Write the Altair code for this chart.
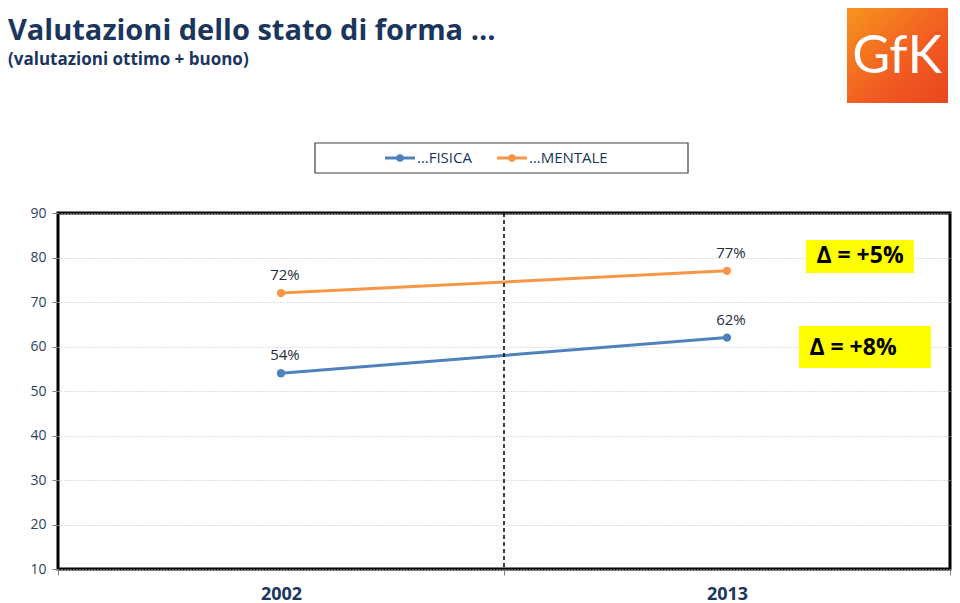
import altair as alt
import pandas as pd

# ---- data ----
years = ["2002", "2013"]
fisica = [54, 62]
mentale = [72, 77]
series_names = ["…FISICA", "…MENTALE"]
series_colors = ["#4F81BD", "#F79646"]
y_ticks = [10, 20, 30, 40, 50, 60, 70, 80, 90]
deltas = ["Δ = +5%", "Δ = +8%"]

title_text = "Valutazioni dello stato di forma …"
subtitle_text = "(valutazioni ottimo + buono)"

NAVY = "#1B365D"
FONT = "Open Sans"

rows = []
for i, yr in enumerate(years):
    rows.append({"year": yr, "serie": series_names[0], "value": fisica[i], "label": f"{fisica[i]}%"})
    rows.append({"year": yr, "serie": series_names[1], "value": mentale[i], "label": f"{mentale[i]}%"})
df = pd.DataFrame(rows)

x_enc = alt.X("year:N", sort=years,
              scale=alt.Scale(paddingInner=0, paddingOuter=0),
              axis=alt.Axis(title=None, labelAngle=0, labelFontSize=18, labelFontWeight="bold",
                            labelColor=NAVY, labelFont=FONT, tickBand="extent", tickSize=6,
                            tickColor="#808080", domain=False, labelPadding=10))
y_scale = alt.Scale(domain=[10, 90], nice=False, zero=False)
y_enc = alt.Y("value:Q", scale=y_scale,
              axis=alt.Axis(title=None, values=y_ticks, labelFontSize=14, labelColor="#2E3F5C",
                            labelFont=FONT, tickSize=6, tickColor="#808080", labelPadding=6,
                            domain=False, grid=True, gridColor="#BFBFBF", gridDash=[1, 2],
                            gridWidth=1))
color_enc = alt.Color("serie:N", scale=alt.Scale(domain=series_names, range=series_colors), legend=None)

base = alt.Chart(df)
lines = base.mark_line(strokeWidth=3).encode(x=x_enc, y=y_enc, color=color_enc, detail="serie:N")
points = base.mark_point(filled=True, size=70, opacity=1).encode(x="year:N", y="value:Q", color=color_enc)
labels = base.mark_text(dy=-18, dx=4, fontSize=15, font=FONT, color="#1F2D3D").encode(
    x="year:N", y="value:Q", text="label:N")

divider = alt.Chart(pd.DataFrame({"year": [years[0]]})).mark_rule(
    color="#000000", strokeDash=[4, 3], strokeWidth=1.5).encode(
    x=alt.X("year:N", bandPosition=1))

# ---- delta annotation boxes (pixel layout of the annotations) ----
delta_boxes = [
    {"x": 748, "x2": 856, "y": 27, "y2": 60, "tx": 802, "ty": 43},
    {"x": 741, "x2": 873, "y": 113, "y2": 155, "tx": 795, "ty": 135},
]
one = pd.DataFrame({"a": [0]})
ann_layers = []
for d, txt in zip(delta_boxes, deltas):
    ann_layers.append(alt.Chart(one).mark_rect(fill="#FFFF00").encode(
        x=alt.value(d["x"]), x2=alt.value(d["x2"]), y=alt.value(d["y"]), y2=alt.value(d["y2"])))
    ann_layers.append(alt.Chart(one).mark_text(fontSize=23, fontWeight="bold", font=FONT,
                                               color="#000000", baseline="middle").encode(
        x=alt.value(d["tx"]), y=alt.value(d["ty"]), text=alt.value(txt)))

# ---- custom legend ----
legend_layers = [
    alt.Chart(one).mark_rect(fill="white", stroke="#404040", strokeWidth=1.2).encode(
        x=alt.value(257), x2=alt.value(630), y=alt.value(-70), y2=alt.value(-40))
]
leg_pos = [327, 439]
for name, col, lx in zip(series_names, series_colors, leg_pos):
    legend_layers.append(alt.Chart(one).mark_rule(color=col, strokeWidth=3).encode(
        x=alt.value(lx), x2=alt.value(lx + 30), y=alt.value(-55)))
    legend_layers.append(alt.Chart(one).mark_point(filled=True, size=55, color=col, opacity=1).encode(
        x=alt.value(lx + 15), y=alt.value(-55)))
    legend_layers.append(alt.Chart(one).mark_text(align="left", baseline="middle", fontSize=15,
                                                  font=FONT, color=NAVY).encode(
        x=alt.value(lx + 32), y=alt.value(-55), text=alt.value(name)))

# ---- titles ----
title_layers = [
    alt.Chart(one).mark_text(align="left", baseline="alphabetic", fontSize=29, fontWeight="bold",
                             font=FONT, color=NAVY).encode(
        x=alt.value(-50), y=alt.value(-173), text=alt.value(title_text)),
    alt.Chart(one).mark_text(align="left", baseline="alphabetic", fontSize=17, fontWeight="bold",
                             font=FONT, color=NAVY).encode(
        x=alt.value(-50), y=alt.value(-148), text=alt.value(subtitle_text)),
]

# ---- logo ----
logo_layers = [
    alt.Chart(one).mark_rect(
        fill=alt.Gradient(gradient="linear", x1=0, y1=0, x2=1, y2=1,
                          stops=[alt.GradientStop(color="#F7941D", offset=0),
                                 alt.GradientStop(color="#F15A22", offset=0.6),
                                 alt.GradientStop(color="#E8461E", offset=1)])).encode(
        x=alt.value(789), x2=alt.value(890), y=alt.value(-205), y2=alt.value(-110)),
    alt.Chart(one).mark_text(fontSize=52, font="Lato", color="white", baseline="alphabetic").encode(
        x=alt.value(839), y=alt.value(-140), text=alt.value("GfK")),
]

chart = alt.layer(
    lines, divider, points, labels, *ann_layers, *legend_layers, *title_layers, *logo_layers
).properties(
    width=892, height=356,
    autosize=alt.AutoSizeParams(type="none"),
    padding={"left": 50, "top": 205, "right": 2, "bottom": 34},
    background="white",
).configure_view(stroke="#000000", strokeWidth=3)

chart.save("out.html", embed_options={"renderer": "svg", "actions": False})
